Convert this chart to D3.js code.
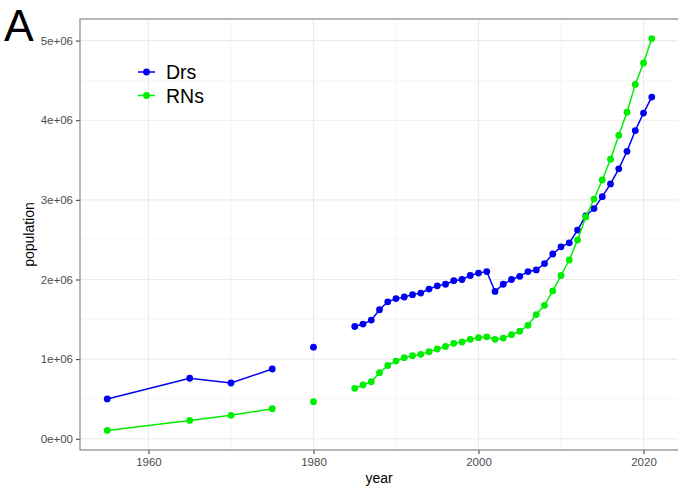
<!DOCTYPE html>
<html>
<head>
<meta charset="utf-8">
<script src="https://cdn.jsdelivr.net/npm/d3@7"></script>
<style>
  body { margin: 0; background: #fff; }
  text { font-family: "Liberation Sans", Arial, sans-serif; }
</style>
</head>
<body>
<svg id="chart" width="678" height="487"></svg>
<script>
// years with no survey are null so the lines break there
const years = [1955, 1965, 1970, 1975, 1976, 1977, 1978, 1979, 1980, 1981, 1982, 1983, 1984,
  1985, 1986, 1987, 1988, 1989, 1990, 1991, 1992, 1993, 1994, 1995, 1996, 1997, 1998, 1999,
  2000, 2001, 2002, 2003, 2004, 2005, 2006, 2007, 2008, 2009, 2010, 2011, 2012, 2013, 2014,
  2015, 2016, 2017, 2018, 2019, 2020, 2021];

const drs = [500000, 760000, 700000, 876000, null, null, null, null, 1150000, null, null, null, null,
  1410000, 1440000, 1490000, 1620000, 1720000, 1760000, 1780000, 1810000, 1830000, 1880000, 1920000, 1940000, 1985000, 2000000, 2050000,
  2080000, 2100000, 1850000, 1940000, 2000000, 2040000, 2100000, 2120000, 2200000, 2320000, 2410000, 2460000, 2620000, 2800000, 2890000,
  3040000, 3200000, 3390000, 3610000, 3870000, 4090000, 4290000];

const rns = [105000, 230000, 294000, 377000, null, null, null, null, 465000, null, null, null, null,
  633000, 675000, 716000, 830000, 920000, 976000, 1018000, 1043000, 1060000, 1093000, 1127000, 1160000, 1198000, 1215000, 1249000,
  1270000, 1280000, 1249000, 1265000, 1307000, 1350000, 1425000, 1560000, 1676000, 1856000, 2050000, 2245000, 2496000, 2785000, 3010000,
  3250000, 3510000, 3810000, 4100000, 4450000, 4720000, 5025000];

const seriesNames = ["Drs", "RNs"];
const seriesColors = ["#0000f0", "#00ee00"];
const xTicks = [1960, 1980, 2000, 2020];
const yTicks = [0, 1e6, 2e6, 3e6, 4e6, 5e6];
const yTickLabels = ["0e+00", "1e+06", "2e+06", "3e+06", "4e+06", "5e+06"];

const svg = d3.select("#chart");
const pLeft = 80, pRight = 679, pTop = 19, pBottom = 450;

const x = d3.scaleLinear().domain([1951.7, 2024.3]).range([pLeft, pRight]);
const y = d3.scaleLinear().domain([-141000, 5271000]).range([pBottom, pTop]);

svg.append("defs").append("clipPath").attr("id", "clip")
  .append("rect").attr("x", pLeft).attr("y", pTop).attr("width", pRight - pLeft).attr("height", pBottom - pTop);

const grid = svg.append("g");
// minor grid
const xMinor = [1970, 1990, 2010];
const yMinor = [500000, 1500000, 2500000, 3500000, 4500000];
grid.selectAll(".xm").data(xMinor).join("line")
  .attr("x1", d => x(d)).attr("x2", d => x(d)).attr("y1", pTop).attr("y2", pBottom)
  .attr("stroke", "#f2f2f2").attr("stroke-width", 0.6);
grid.selectAll(".ym").data(yMinor).join("line")
  .attr("x1", pLeft).attr("x2", pRight).attr("y1", d => y(d)).attr("y2", d => y(d))
  .attr("stroke", "#f2f2f2").attr("stroke-width", 0.6);
grid.selectAll(".xg").data(xTicks).join("line")
  .attr("x1", d => x(d)).attr("x2", d => x(d)).attr("y1", pTop).attr("y2", pBottom)
  .attr("stroke", "#ebebeb").attr("stroke-width", 1.1);
grid.selectAll(".yg").data(yTicks).join("line")
  .attr("x1", pLeft).attr("x2", pRight).attr("y1", d => y(d)).attr("y2", d => y(d))
  .attr("stroke", "#ebebeb").attr("stroke-width", 1.1);

// axes
const xAxis = svg.append("g")
  .attr("transform", `translate(0,${pBottom})`)
  .call(d3.axisBottom(x).tickValues(xTicks).tickFormat(d3.format("d")).tickSize(4).tickPadding(4));
const yAxis = svg.append("g")
  .attr("transform", `translate(${pLeft},0)`)
  .call(d3.axisLeft(y).tickValues(yTicks).tickFormat((d, i) => yTickLabels[i]).tickSize(4).tickPadding(3));
[xAxis, yAxis].forEach(a => {
  a.select(".domain").remove();
  a.selectAll(".tick line").attr("stroke", "#333");
  a.selectAll(".tick text").attr("fill", "#4d4d4d").style("font-size", "11.5px")
    .style("font-family", "Liberation Sans, Arial, sans-serif");
});

// panel border
svg.append("rect")
  .attr("x", pLeft).attr("y", pTop).attr("width", pRight - pLeft).attr("height", pBottom - pTop)
  .attr("fill", "none").attr("stroke", "#888").attr("stroke-width", 1.2);

const plot = svg.append("g").attr("clip-path", "url(#clip)");
const line = d3.line()
  .defined(d => d.v !== null)
  .x(d => x(d.year))
  .y(d => y(d.v));

[drs, rns].forEach((vals, i) => {
  const pts = years.map((yr, j) => ({ year: yr, v: vals[j] }));
  plot.append("path")
    .datum(pts)
    .attr("fill", "none")
    .attr("stroke", seriesColors[i])
    .attr("stroke-width", 1.5)
    .attr("d", line);
  plot.selectAll(null)
    .data(pts.filter(d => d.v !== null))
    .join("circle")
    .attr("cx", d => x(d.year))
    .attr("cy", d => y(d.v))
    .attr("r", 3.4)
    .attr("fill", seriesColors[i]);
});

// legend
const legend = svg.append("g").attr("transform", "translate(138,72)");
seriesNames.forEach((name, i) => {
  const g = legend.append("g").attr("transform", `translate(0,${i * 23.5})`);
  g.append("line").attr("x1", 0).attr("x2", 17).attr("y1", 0).attr("y2", 0)
    .attr("stroke", seriesColors[i]).attr("stroke-width", 1.5);
  g.append("circle").attr("cx", 8.5).attr("cy", 0).attr("r", 3.4).attr("fill", seriesColors[i]);
  g.append("text").attr("x", 28).attr("y", 7).text(name)
    .style("font-size", "19.5px").attr("fill", "#000");
});

// axis titles
svg.append("text").attr("x", (pLeft + pRight) / 2 - 0.5).attr("y", 483)
  .attr("text-anchor", "middle").style("font-size", "14px").text("year");
svg.append("text")
  .attr("transform", `translate(34,${(pTop + pBottom) / 2}) rotate(-90)`)
  .attr("text-anchor", "middle").style("font-size", "14px").text("population");

// panel tag
svg.append("text").attr("x", 4).attr("y", 40.5).style("font-size", "44.5px").text("A");
</script>
</body>
</html>
